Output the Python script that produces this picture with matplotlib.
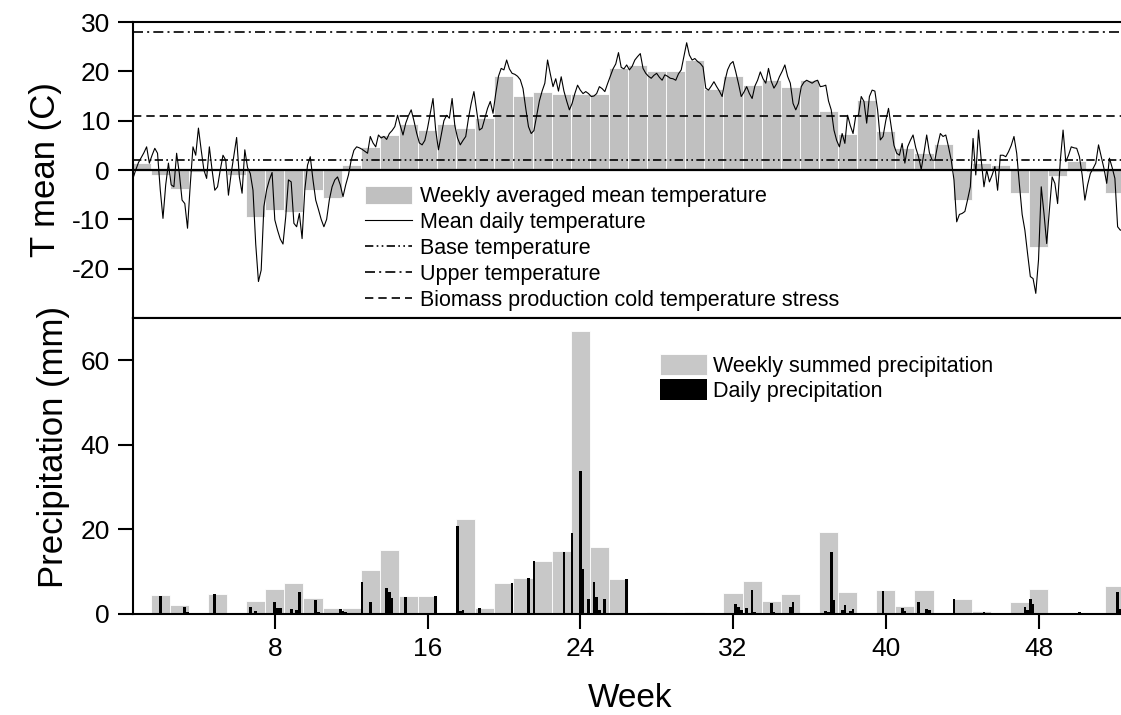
import matplotlib
matplotlib.use("Agg")
import matplotlib.pyplot as plt
import numpy as np

plt.rcParams['font.family'] = ['Liberation Sans', 'DejaVu Sans']
plt.rcParams['axes.unicode_minus'] = False

# weekly averaged mean temperature (week 1..52)
t_weekly = [1.4, -1.0, -3.9, -0.3, 0.3, -1.0, -9.5, -8.1, -8.5, -4.1, -5.6, 1.0, 4.7,
            7.1, 9.3, 8.1, 9.3, 8.6, 10.5, 19.1, 15.1, 15.9, 15.5, 15.4, 15.4, 20.6,
            21.3, 20.1, 20.1, 22.3, 16.5, 19.1, 17.2, 18.2, 16.8, 18.2, 12.0, 7.4,
            14.2, 8.0, 4.4, 3.4, 5.3, -6.1, 1.4, 1.0, -4.6, -15.7, -1.2, 1.9, -0.5, -4.6]

# mean daily temperature, day 0..364 (one row per week)
t_daily = [
    -1.7, 0.0, 1.5, 2.5, 3.5, 4.7, 1.4,
    3.0, 4.4, 3.4, -4.0, -9.8, -3.0, 1.4,
    -3.0, -3.4, 3.4, -0.7, -6.1, -6.8, -11.8,
    -3.0, 4.7, 3.0, 8.5, 4.1, 0.0, -1.7,
    4.7, 0.0, -4.1, -3.4, 0.0, 3.0, 2.0,
    -5.1, -0.7, 3.0, 6.6, -1.4, -4.7, 4.1,
    0.5, -0.7, -4.1, -15.0, -22.6, -20.3, -7.4,
    -4.0, -2.0, -0.5, -10.1, -12.2, -14.0, -15.0,
    -9.5, -2.0, -2.4, -10.8, -11.5, -8.8, -13.9,
    -4.0, 1.0, 2.7, -2.0, -6.1, -8.0, -10.0,
    -11.5, -10.0, -6.0, -3.4, -2.0, -1.4, -3.0,
    -5.4, -3.0, -1.0, 2.0, 4.0, 4.7, 4.5,
    4.2, 3.8, 3.4, 6.8, 5.5, 4.7, 7.1,
    6.5, 6.8, 6.2, 7.4, 8.0, 8.8, 11.1,
    9.0, 7.1, 9.5, 11.0, 12.2, 10.0, 7.5,
    5.5, 5.1, 6.0, 8.5, 11.5, 14.5, 8.0,
    4.1, 7.0, 10.0, 11.1, 10.5, 14.5, 9.0,
    6.5, 5.1, 6.0, 6.8, 10.5, 13.5, 15.9,
    12.0, 8.1, 8.5, 10.5, 12.5, 13.9, 11.5,
    15.5, 19.0, 20.6, 20.3, 22.3, 20.5, 19.6,
    19.4, 19.0, 18.3, 16.5, 12.5, 8.8, 7.4,
    8.0, 11.0, 14.0, 16.0, 17.6, 22.3, 19.5,
    16.9, 18.5, 16.0, 18.9, 16.0, 14.0, 12.2,
    13.5, 15.5, 17.2, 16.2, 15.5, 15.9, 15.5,
    14.9, 15.0, 15.5, 16.9, 16.5, 15.9, 17.5,
    19.0, 20.5, 21.5, 23.8, 20.8, 20.5, 21.3,
    20.3, 21.0, 22.3, 23.0, 23.6, 20.6, 19.6,
    19.0, 18.6, 19.2, 19.6, 18.8, 18.2, 19.3,
    19.0, 18.6, 18.5, 18.2, 19.5, 20.3, 23.0,
    25.8, 23.3, 22.3, 22.6, 22.0, 21.6, 20.9,
    16.6, 16.2, 17.0, 17.9, 16.9, 16.0, 14.9,
    18.0, 20.3, 21.5, 22.0, 19.9, 17.5, 14.9,
    15.8, 16.9, 15.5, 14.5, 17.0, 18.2, 19.9,
    18.5, 17.6, 20.6, 18.0, 16.6, 17.5, 18.9,
    20.0, 21.3, 19.0, 17.6, 13.5, 12.2, 13.5,
    16.9, 17.8, 18.2, 17.9, 17.6, 18.0, 18.2,
    16.9, 17.0, 17.2, 14.0, 12.2, 8.1, 6.0,
    4.7, 7.4, 5.4, 11.1, 9.0, 7.4, 11.0,
    11.1, 14.9, 13.9, 9.5, 14.9, 16.2, 16.0,
    12.2, 6.1, 6.8, 10.0, 12.5, 8.8, 5.0,
    3.4, 3.0, 5.4, 1.4, 4.7, 6.0, 7.1,
    4.5, 2.7, 0.1, 3.5, 7.1, 3.5, 2.0,
    2.0, 5.0, 7.4, 6.8, 7.1, 4.7, 2.0,
    -2.0, -10.5, -9.0, -8.8, -8.4, -6.0, -3.4,
    6.4, -1.0, 8.1, 2.0, -3.4, 0.0, -2.4,
    -1.0, 0.7, -4.1, 3.0, 3.0, 2.7, 3.7,
    5.0, 6.8, 3.4, -3.0, -9.0, -12.2, -17.0,
    -21.6, -22.0, -25.0, -18.2, -3.4, -8.8, -14.9,
    -8.0, -1.4, -2.7, -6.8, 2.0, 8.1, 1.7,
    3.0, 4.7, 4.5, 4.4, 2.7, -1.0, -6.1,
    -3.0, -0.7, 0.3, 1.4, 5.1, 2.7, 0.3,
    -2.7, 2.4, 0.5, -1.7, -11.5, -12.2, -12.0, -12.0,
]

t_base = 2
t_upper = 28
t_cold = 11

# weekly summed precipitation (week 1..52)
p_weekly = [0, 4.6, 2.1, 0, 4.7, 0, 3.0, 5.9, 7.3, 3.7, 1.3, 1.3, 10.4, 15.1, 4.3,
            4.3, 0, 22.5, 1.3, 7.3, 8.5, 12.6, 14.8, 67.0, 15.8, 8.2, 0.3, 0.5, 0.3,
            0.5, 0.3, 4.9, 7.7, 3.0, 4.7, 0, 19.3, 5.1, 0, 5.7, 2.0, 5.7, 0, 3.6,
            0.8, 0.3, 2.9, 5.9, 0, 0.2, 0.2, 6.5]

# daily precipitation: day index and amount (days without rain omitted)
p_days = [8, 10, 19, 20, 30, 43, 45, 52, 53, 54, 58, 60, 61, 67, 68, 75, 76, 77, 78,
          84, 87, 93, 94, 95, 100, 111, 119, 120, 121, 127, 139, 145, 147, 158,
          161, 164, 165, 167, 169, 170, 171, 173, 181, 190, 200, 205, 210,
          221, 222, 223, 225, 227, 228, 234, 235, 241, 242, 254, 255, 256, 257,
          260, 261, 263, 264, 275, 282, 283, 288, 291, 292, 301, 312, 327, 328,
          329, 330, 347, 361, 362]
p_daily = [0.3, 4.3, 1.7, 0.4, 4.7, 1.7, 0.8, 2.9, 1.5, 1.5, 1.1, 1.0, 5.1, 3.3, 0.4,
           0.2, 1.1, 0.8, 0.5, 7.5, 2.8, 6.2, 5.1, 3.7, 4.1, 4.3, 20.9, 0.8, 0.9,
           1.3, 7.4, 8.4, 12.6, 14.6, 19.1, 33.8, 10.6, 3.6, 7.5, 3.9, 0.9, 3.6,
           8.2, 0.3, 0.3, 0.3, 0.2, 2.4, 1.6, 1.0, 1.5, 5.7, 0.5, 2.5, 0.5, 1.7,
           2.8, 0.8, 0.5, 14.7, 3.3, 1.0, 2.1, 0.8, 1.1, 5.5, 1.3, 0.8, 2.8, 1.1,
           1.0, 3.5, 0.5, 1.7, 1.0, 3.6, 2.4, 0.4, 5.1, 1.2]

weeks = np.arange(1, len(t_weekly) + 1)
day_x = 0.5 + (np.arange(len(t_daily)) + 0.5) / 7
p_day_x = 0.5 + (np.array(p_days) + 0.5) / 7

fig = plt.figure(figsize=(11.21, 7.15), dpi=100)
ax1 = fig.add_axes([0.1186, 0.5552, 0.8814, 0.414])
ax2 = fig.add_axes([0.1186, 0.1413, 0.8814, 0.414], sharex=ax1)

# --- temperature panel
h_bar = ax1.bar(weeks, t_weekly, width=1.0, color='#c0c0c0', edgecolor='white', linewidth=0.6,
                label='Weekly averaged mean temperature', zorder=1)
h_day, = ax1.plot(day_x, t_daily, color='black', lw=0.8, label='Mean daily temperature', zorder=3)
h_base = ax1.axhline(t_base, color='black', lw=1.2, linestyle=(0, (5, 2, 1, 2, 1, 2)),
                     label='Base temperature', zorder=2)
h_up = ax1.axhline(t_upper, color='black', lw=1.2, linestyle=(0, (6, 2.5, 1.2, 2.5)),
                   label='Upper temperature', zorder=2)
h_cold = ax1.axhline(t_cold, color='black', lw=1.2, linestyle=(0, (5, 3)),
                     label='Biomass production cold temperature stress', zorder=2)
ax1.axhline(0, color='black', lw=1.6, zorder=4)

ax1.set_ylim(-30, 30)
ax1.set_yticks([-20, -10, 0, 10, 20, 30])
ax1.set_ylabel('T mean (C)', fontsize=25)
ax1.yaxis.set_label_coords(-0.072, 0.5)
ax1.tick_params(axis='x', bottom=False, labelbottom=False)
ax1.legend(handles=[h_bar, h_day, h_base, h_up, h_cold],
           loc='upper left', bbox_to_anchor=(0.2348, 0.447), frameon=False, fontsize=15.5,
           handlelength=2.2, handleheight=0.95, handletextpad=0.35, labelspacing=0.2,
           borderpad=0, borderaxespad=0)

# --- precipitation panel
ax2.bar(weeks, p_weekly, width=1.0, color='#c8c8c8', edgecolor='white', linewidth=0.6,
        label='Weekly summed precipitation', zorder=1)
ax2.bar(p_day_x, p_daily, width=1 / 7, color='black', linewidth=0,
        label='Daily precipitation', zorder=2)
ax2.set_ylim(0, 70)
ax2.set_yticks([0, 20, 40, 60])
ax2.set_xlim(0.57, 52.32)
ax2.set_xticks([8, 16, 24, 32, 40, 48])
ax2.set_ylabel('Precipitation (mm)', fontsize=25)
ax2.yaxis.set_label_coords(-0.064, 0.564)
ax2.set_xlabel('Week', fontsize=24)
ax2.xaxis.label.set_va('baseline')
ax2.xaxis.set_label_coords(0.503, -0.314)
ax2.legend(loc='upper left', bbox_to_anchor=(0.533, 0.878), frameon=False, fontsize=15.5,
           handlelength=2.2, handleheight=1.1, handletextpad=0.3, labelspacing=0.1,
           borderpad=0, borderaxespad=0)

for ax in (ax1, ax2):
    for s in ax.spines.values():
        s.set_linewidth(1.5)
    ax.spines['right'].set_visible(False)
    ax.tick_params(direction='out', length=10.5, width=1.5, labelsize=19, pad=6)

fig.savefig('out.png', dpi=100)
